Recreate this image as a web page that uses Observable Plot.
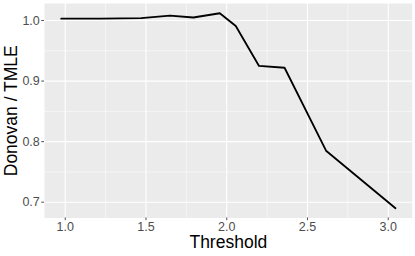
<!DOCTYPE html>
<html>
<head>
<meta charset="utf-8">
<script src="https://cdn.jsdelivr.net/npm/d3@7"></script>
<script src="https://cdn.jsdelivr.net/npm/@observablehq/plot@0.6"></script>
<style>
  html, body { margin: 0; padding: 0; background: #fff; }
  svg { display: block; }
</style>
</head>
<body>
<div id="chart"></div>
<script>
const threshold = [0.975, 1.22, 1.47, 1.648, 1.793, 1.957, 2.056, 2.200, 2.358, 2.615, 3.045];
const ratio     = [1.003, 1.003, 1.004, 1.008, 1.005, 1.012, 0.991, 0.925, 0.922, 0.785, 0.690];
const xTicks = [1.0, 1.5, 2.0, 2.5, 3.0];
const xMinor = [1.25, 1.75, 2.25, 2.75];
const yTicks = [0.7, 0.8, 0.9, 1.0];
const yMinor = [0.75, 0.85, 0.95];
const xLabel = "Threshold";
const yLabel = "Donovan / TMLE";

const data = threshold.map((t, i) => ({t, r: ratio[i]}));
function expand(arr) {
  const [a, b] = d3.extent(arr); const e = (b - a) * 0.05; return [a - e, b + e];
}
const font = "'Liberation Sans', Arial, Helvetica, sans-serif";

const chart = Plot.plot({
  width: 415,
  height: 256,
  marginLeft: 44,
  marginRight: 3.3,
  marginTop: 3,
  marginBottom: 38.5,
  style: {fontFamily: font, background: "#fff"},
  x: {domain: expand(threshold), axis: null},
  y: {domain: expand(ratio), axis: null},
  marks: [
    Plot.frame({fill: "#EBEBEB", stroke: null}),
    Plot.gridX(xMinor, {stroke: "#fff", strokeOpacity: 1, strokeWidth: 0.55}),
    Plot.gridY(yMinor, {stroke: "#fff", strokeOpacity: 1, strokeWidth: 0.55}),
    Plot.gridX(xTicks, {stroke: "#fff", strokeOpacity: 1, strokeWidth: 1.1}),
    Plot.gridY(yTicks, {stroke: "#fff", strokeOpacity: 1, strokeWidth: 1.1}),
    Plot.axisX({ticks: xTicks, tickSize: 2.7, color: "#4D4D4D", fontSize: 12.5, tickPadding: 1.5, tickFormat: d => d.toFixed(1), label: null}),
    Plot.axisY({ticks: yTicks, tickSize: 2.7, color: "#4D4D4D", fontSize: 12.5, tickPadding: 2, tickFormat: d => d.toFixed(1), label: null}),
    Plot.line(data, {x: "t", y: "r", stroke: "#000", strokeWidth: 1.8}),
    Plot.text([xLabel], {frameAnchor: "bottom", textAnchor: "middle", lineAnchor: "middle", dy: 24.5, fontSize: 17.5, fill: "#000"}),
    Plot.text([yLabel], {frameAnchor: "left", textAnchor: "middle", lineAnchor: "middle", dx: -33, rotate: -90, fontSize: 17.5, fill: "#000"})
  ]
});
document.getElementById("chart").appendChild(chart);
</script>
</body>
</html>
